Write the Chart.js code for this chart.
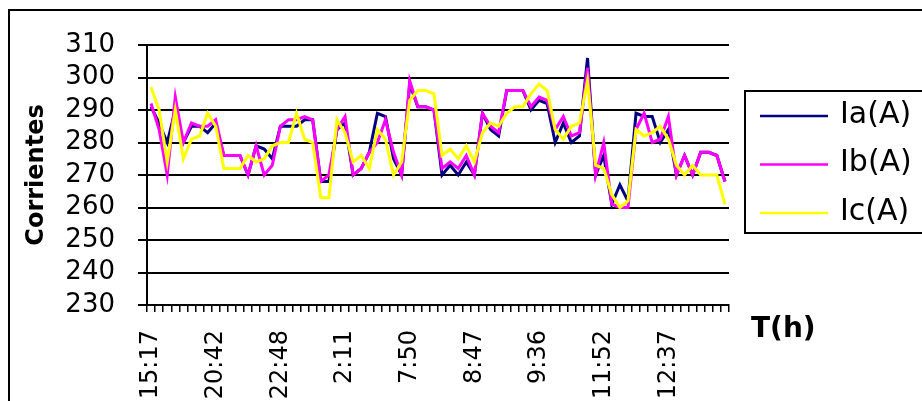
<!DOCTYPE html>
<html>
<head>
<meta charset="utf-8">
<script src="https://cdn.jsdelivr.net/npm/chart.js@4.4.1/dist/chart.umd.min.js"></script>
<style>
  html, body { margin: 0; padding: 0; background: #fff; }
  #wrap { width: 922px; height: 401px; }
</style>
</head>
<body>
<div id="wrap"><canvas id="chart" width="922" height="401"></canvas></div>
<script>
// hour labels shown on the time axis, one every 8 readings
const tickLabels = ['15:17', '20:42', '22:48', '2:11', '7:50', '8:47', '9:36', '11:52', '12:37'];
const labelStep = 8;

// phase currents (A)
const ia = [291, 286, 280, 290, 280, 285, 285, 283, 286, 276, 276, 276, 270, 279, 278, 275, 285, 285, 285, 287,
            287, 268, 268, 284, 286, 270, 272, 277, 289, 288, 275, 270, 298, 291, 291, 290, 270, 273, 270, 274,
            270, 289, 284, 282, 296, 296, 296, 290, 293, 292, 280, 286, 280, 282, 306, 270, 276, 261, 267, 262,
            289, 288, 288, 280, 284, 270, 276, 270, 277, 277, 276, 268];
const ib = [292, 284, 270, 294, 280, 286, 285, 285, 287, 276, 276, 276, 270, 279, 270, 273, 285, 287, 287, 288,
            287, 268, 270, 284, 288, 270, 272, 277, 280, 287, 277, 270, 299, 291, 291, 290, 272, 274, 272, 276,
            270, 289, 285, 283, 296, 296, 296, 291, 294, 293, 284, 288, 282, 283, 303, 270, 280, 261, 260, 260,
            284, 289, 280, 281, 288, 270, 276, 270, 277, 277, 276, 268];
const ic = [297, 290, 274, 290, 275, 281, 282, 289, 285, 272, 272, 272, 276, 274, 275, 279, 280, 280, 289, 281,
            280, 263, 263, 287, 283, 274, 276, 272, 284, 281, 270, 274, 293, 296, 296, 295, 276, 278, 275, 279,
            274, 283, 286, 285, 289, 291, 291, 295, 298, 296, 284, 281, 285, 286, 299, 273, 272, 264, 260, 262,
            284, 282, 283, 285, 281, 273, 270, 273, 270, 270, 270, 261];

const categories = ia.map((_, i) => i % labelStep === 0 ? tickLabels[i / labelStep] : '');

const FONT = 'DejaVu Sans';

// white page, outer frame, boxed legend and the axis caption on the right
const frame = {
  id: 'frame',
  beforeDraw(chart) {
    const ctx = chart.ctx;
    ctx.save();
    ctx.fillStyle = '#fff';
    ctx.fillRect(0, 0, chart.width, chart.height);
    ctx.strokeStyle = '#000';
    ctx.lineWidth = 2;
    ctx.strokeRect(9, 10, 1000, 1000);
    ctx.restore();
  },
  afterDraw(chart) {
    const ctx = chart.ctx;
    const area = chart.chartArea;
    ctx.save();
    ctx.strokeStyle = '#000';
    ctx.lineWidth = 2;
    ctx.strokeRect(745, 91, 300, 142);
    ctx.font = '30px ' + FONT;
    ctx.textBaseline = 'middle';
    ctx.fillStyle = '#000';
    chart.data.datasets.forEach((ds, k) => {
      const y = 116 + k * 48.5;
      ctx.strokeStyle = ds.borderColor;
      ctx.lineWidth = 2.5;
      ctx.beginPath();
      ctx.moveTo(760, y);
      ctx.lineTo(828, y);
      ctx.stroke();
      ctx.fillText(ds.label, 840, y - 1);
    });
    ctx.font = 'bold 28px ' + FONT;
    ctx.fillText('T(h)', area.right + 22, area.bottom + 25);
    ctx.restore();
  }
};

new Chart(document.getElementById('chart'), {
  type: 'line',
  data: {
    labels: categories,
    datasets: [
      { label: 'Ia(A)', data: ia, borderColor: '#000080', backgroundColor: '#000080', order: 3 },
      { label: 'Ib(A)', data: ib, borderColor: '#ff00ff', backgroundColor: '#ff00ff', order: 2 },
      { label: 'Ic(A)', data: ic, borderColor: '#ffff00', backgroundColor: '#ffff00', order: 1 }
    ]
  },
  options: {
    responsive: false,
    animation: false,
    layout: { padding: { top: 45, right: 193, left: 0, bottom: 0 } },
    elements: {
      point: { radius: 0 },
      line: { borderWidth: 3, tension: 0 }
    },
    plugins: {
      legend: { display: false },
      tooltip: { enabled: false }
    },
    scales: {
      x: {
        offset: true,
        grid: { offset: true, drawOnChartArea: false, tickLength: 7, color: '#000', lineWidth: 1.5 },
        border: { display: true, color: '#000', width: 2 },
        ticks: {
          autoSkip: false, minRotation: 90, maxRotation: 90, padding: 18,
          color: '#000', font: { family: FONT, size: 24 }
        },
        afterFit(scale) { scale.height = 96; }
      },
      y: {
        min: 230,
        max: 310,
        ticks: { stepSize: 10, autoSkip: false, padding: 23, color: '#000', font: { family: FONT, size: 26 } },
        grid: { color: '#000', lineWidth: 2, tickLength: 9 },
        border: { color: '#000', width: 2 },
        title: {
          display: true, text: 'Corrientes', color: '#000',
          font: { family: FONT, size: 24, weight: 'bold' },
          padding: { top: 22, bottom: 0 }
        },
        afterFit(scale) { scale.width = 147; }
      }
    }
  },
  plugins: [frame]
});
</script>
</body>
</html>
